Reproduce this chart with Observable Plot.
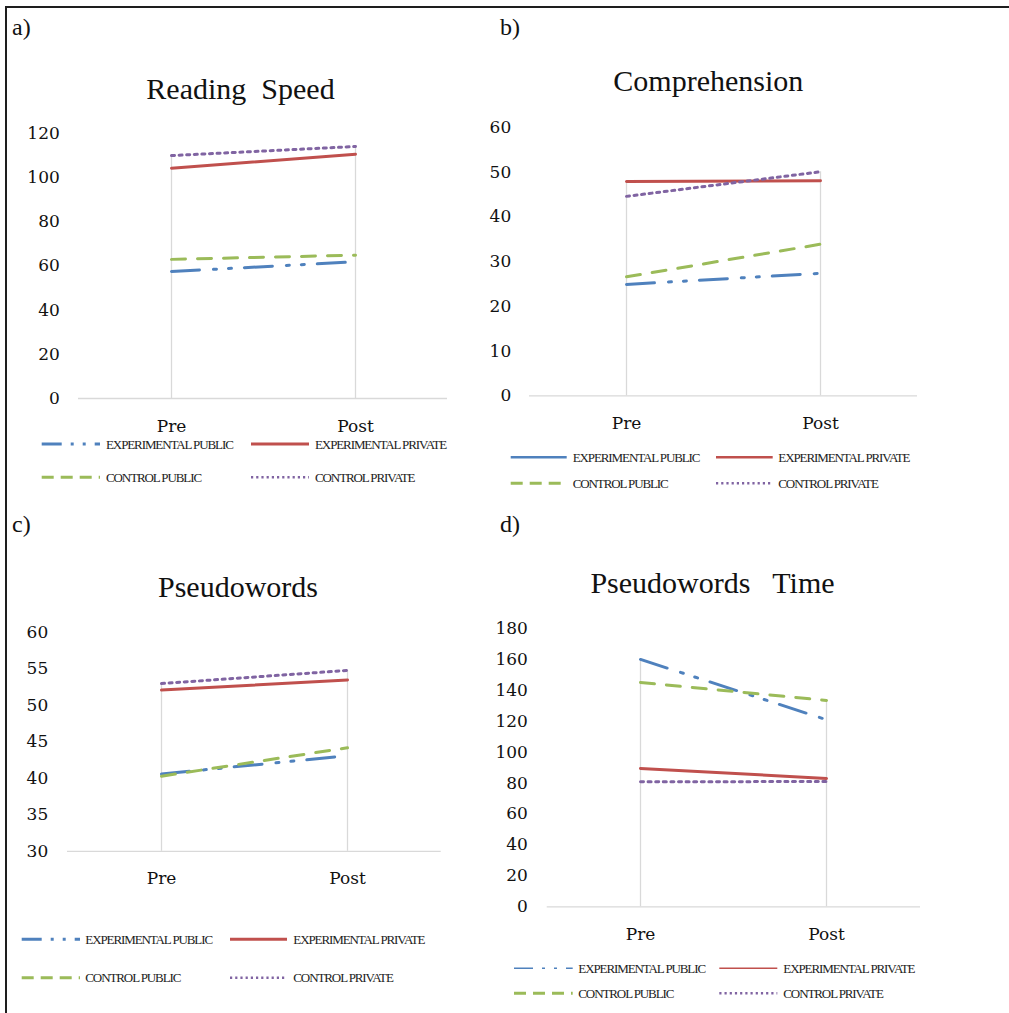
<!DOCTYPE html>
<html><head><meta charset="utf-8">
<script src="https://cdn.jsdelivr.net/npm/d3@7"></script>
<script src="https://cdn.jsdelivr.net/npm/@observablehq/plot@0.6"></script>
<style>
html{overflow:hidden;}
body{margin:0;background:#fff;width:1009px;height:1013px;overflow:hidden;position:relative;}
#frame{position:absolute;left:5px;top:6px;width:1002px;height:1005px;border-top:2px solid #1e1e1e;border-left:2px solid #1e1e1e;}
</style></head><body><div id="frame"></div>
<script>
// ---------------- data ----------------
const phases = ["Pre", "Post"];
const groups = ["EXPERIMENTAL PUBLIC", "EXPERIMENTAL PRIVATE", "CONTROL PUBLIC", "CONTROL PRIVATE"];
const panelLetters = ["a)", "b)", "c)", "d)"];
const panelTitles = ["Reading  Speed", "Comprehension", "Pseudowords", "Pseudowords   Time"];

// [Pre, Post] per group, in the order of `groups`
const readingSpeed    = [[57.5, 61.9], [104.3, 110.6], [63.0, 64.9], [110.0, 114.1]];
const comprehension   = [[24.9, 27.4], [47.9, 48.1], [26.6, 33.9], [44.6, 50.1]];
const pseudowords     = [[40.6, 43.1], [52.1, 53.5], [40.3, 44.2], [53.0, 54.8]];
const pseudowordsTime = [[160.0, 121.0], [89.5, 83.0], [145.1, 133.5], [80.9, 81.0]];

const readingSpeedTicks    = [0, 20, 40, 60, 80, 100, 120];
const comprehensionTicks   = [0, 10, 20, 30, 40, 50, 60];
const pseudowordsTicks     = [30, 35, 40, 45, 50, 55, 60];
const pseudowordsTimeTicks = [0, 20, 40, 60, 80, 100, 120, 140, 160, 180];

// ---------------- styles / layout ----------------
const seriesColors = ["#4F81BD", "#C0504D", "#9BBB59", "#8064A2"];
const seriesDash = ["28 14 3 12 3 13", null, "14 12", "3 4.6"];

const legendThick = {w: [3, 3, 3, 2.5], dash: ["20 9 3 9 3 9", null, "12 7", "2.2 3"]};
const legendB     = {w: [2.5, 2.5, 3, 2.5], dash: [null, null, "12 7", "2.2 3"]};
const legendD     = {w: [1.6, 1.6, 3, 2.5], dash: ["19 9 3 9 3 9", null, "12 7", "2.2 3"]};

const layouts = [
  {left: 0,   xL: 78,    xR: 447,   yTop: 133,   yBase: 398,   labelRight: 59.3,  title: [240.5, 99],   letter: [12, 35],
   rows: [444, 477.3], sw: [[41.7, 100], [251, 309]], tx: [106, 315], leg: legendThick},
  {left: 490, xL: 529,   xR: 917,   yTop: 126.7, yBase: 395,   labelRight: 510.7, title: [708.3, 90.7], letter: [500, 35],
   rows: [457.3, 483.3], sw: [[510.7, 566.7], [716, 772.7]], tx: [572.7, 778.3], leg: legendB},
  {left: 0,   xL: 67,    xR: 440.7, yTop: 631.7, yBase: 850.5, labelRight: 47.7,  title: [238, 596.7], letter: [12, 532],
   rows: [939.3, 977.7], sw: [[21.7, 80], [230, 287]], tx: [85.3, 293.3], leg: legendThick},
  {left: 490, xL: 546.7, xR: 920,   yTop: 627.7, yBase: 906,   labelRight: 527.3, title: [712.5, 592.7], letter: [500, 532],
   rows: [968.3, 993.3], sw: [[514, 572.7], [719.3, 777.3]], tx: [578.3, 783.3], leg: legendD}
];
const panelValues = [readingSpeed, comprehension, pseudowords, pseudowordsTime];
const panelTicks = [readingSpeedTicks, comprehensionTicks, pseudowordsTicks, pseudowordsTimeTicks];

function makePanel(cfg, values, ticks) {
  const W = 500, mt = 25, mb = 45;
  const svgTop = cfg.yTop - mt;
  const H = cfg.yBase + mb - svgTop;
  const rows = [];
  groups.forEach((g, i) => phases.forEach((p, j) => rows.push({group: g, phase: p, value: values[i][j], gi: i})));
  const yMin = ticks[0], yMax = ticks[ticks.length - 1];
  const drops = phases.map((p, j) => ({phase: p, top: d3.max(values, v => v[j])}));
  const plot = Plot.plot({
    width: W, height: H,
    marginLeft: cfg.xL - cfg.left, marginRight: cfg.left + W - cfg.xR,
    marginTop: mt, marginBottom: mb,
    x: {type: "point", domain: phases, padding: 0.5},
    y: {domain: [yMin, yMax]},
    style: {fontFamily: "DejaVu Serif", fontSize: "17px", color: "#111", background: "transparent", overflow: "visible"},
    marks: [
      Plot.ruleY([yMin], {stroke: "#d9d9d9", strokeWidth: 1.3}),
      Plot.ruleX(drops, {x: "phase", y1: yMin, y2: "top", stroke: "#d9d9d9", strokeWidth: 1.3}),
      ...groups.map((g, i) => Plot.line(rows.filter(r => r.gi === i), {
        x: "phase", y: "value", stroke: seriesColors[i], strokeWidth: 3,
        strokeDasharray: seriesDash[i] || undefined
      })),
      Plot.axisY({ticks, tickSize: 0, tickPadding: cfg.xL - cfg.labelRight, fontSize: 17, label: null, tickFormat: d => String(d)}),
      Plot.axisX({tickSize: 0, tickPadding: 21, fontSize: 17, label: null})
    ]
  });
  plot.style.position = "absolute";
  plot.style.left = cfg.left + "px";
  plot.style.top = svgTop + "px";
  document.body.appendChild(plot);
}

layouts.forEach((cfg, k) => makePanel(cfg, panelValues[k], panelTicks[k]));

// ---------------- titles, letters and legends ----------------
const over = d3.select("body").append("svg")
  .attr("width", 1009).attr("height", 1013)
  .style("position", "absolute").style("left", "0px").style("top", "0px")
  .style("pointer-events", "none");

layouts.forEach((cfg, k) => {
  over.append("text").attr("x", cfg.letter[0]).attr("y", cfg.letter[1])
    .attr("font-family", "Liberation Serif").attr("font-size", 24).attr("fill", "#111")
    .text(panelLetters[k]);
  over.append("text").attr("x", cfg.title[0]).attr("y", cfg.title[1])
    .attr("text-anchor", "middle").attr("xml:space", "preserve").style("white-space", "pre")
    .attr("font-family", "Liberation Serif").attr("font-size", 30).attr("fill", "#111")
    .text(panelTitles[k]);
  groups.forEach((g, i) => {
    const row = Math.floor(i / 2), col = i % 2;
    const y = cfg.rows[row];
    over.append("line")
      .attr("x1", cfg.sw[col][0]).attr("x2", cfg.sw[col][1]).attr("y1", y).attr("y2", y)
      .attr("stroke", seriesColors[i]).attr("stroke-width", cfg.leg.w[i])
      .attr("stroke-dasharray", cfg.leg.dash[i]);
    over.append("text").attr("x", cfg.tx[col]).attr("y", y).attr("dy", "0.35em")
      .attr("font-family", "Liberation Serif").attr("font-size", 13).attr("letter-spacing", -1.1)
      .attr("fill", "#222").text(g);
  });
});
</script></body></html>
